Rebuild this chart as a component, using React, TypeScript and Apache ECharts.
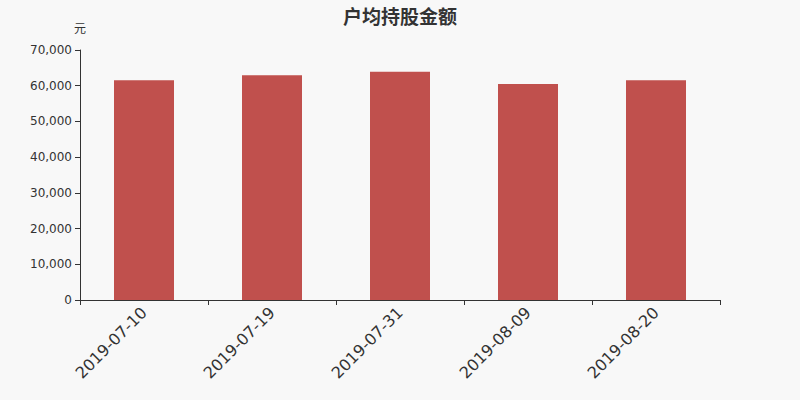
import {useEffect, useRef} from 'react';
import * as echarts from 'echarts';

const dates = ['2019-07-10', '2019-07-19', '2019-07-31', '2019-08-09', '2019-08-20'];
const amounts = [61500, 62900, 63900, 60450, 61550];

const App = () => {
    const chartRef = useRef<HTMLDivElement>(null);

    useEffect(() => {
        const myChart = echarts.init(chartRef.current!, null, {renderer: 'svg'});

        myChart.setOption({
            animation: false,
            backgroundColor: '#f8f8f8',
            title: {
                text: '户均持股金额',
                left: 'center',
                top: 1,
                textStyle: {
                    fontSize: 19,
                    fontWeight: 'bold',
                    color: '#333',
                    fontFamily: 'Noto Sans CJK SC',
                },
            },
            grid: {
                left: 80,
                right: 80,
                top: 50,
                bottom: 100,
            },
            xAxis: {
                type: 'category',
                data: dates,
                axisLine: {lineStyle: {color: '#333'}},
                axisTick: {show: true, alignWithLabel: false},
                axisLabel: {
                    rotate: 45,
                    fontSize: 16,
                    color: '#333',
                    fontFamily: 'DejaVu Sans',
                    margin: 10,
                },
            },
            yAxis: {
                type: 'value',
                name: '元',
                min: 0,
                max: 70000,
                interval: 10000,
                nameGap: 17,
                nameTextStyle: {
                    color: '#333',
                    fontSize: 12,
                    fontFamily: 'Noto Sans CJK SC',
                    align: 'center',
                },
                axisLine: {show: true, lineStyle: {color: '#333'}},
                axisTick: {show: true},
                splitLine: {show: false},
                axisLabel: {
                    color: '#333',
                    fontSize: 12,
                    fontFamily: 'DejaVu Sans',
                    formatter: (v: number) => v.toLocaleString('en-US'),
                },
            },
            series: [
                {
                    type: 'bar',
                    data: amounts,
                    barWidth: 60,
                    itemStyle: {color: '#c0504d'},
                },
            ],
        });

        return () => {
            myChart.dispose();
        };
    }, []);

    return (
        <div
            ref={chartRef}
            style={{position: 'absolute', left: 0, top: 0, width: '800px', height: '400px'}}
        />
    );
};

export default App;
